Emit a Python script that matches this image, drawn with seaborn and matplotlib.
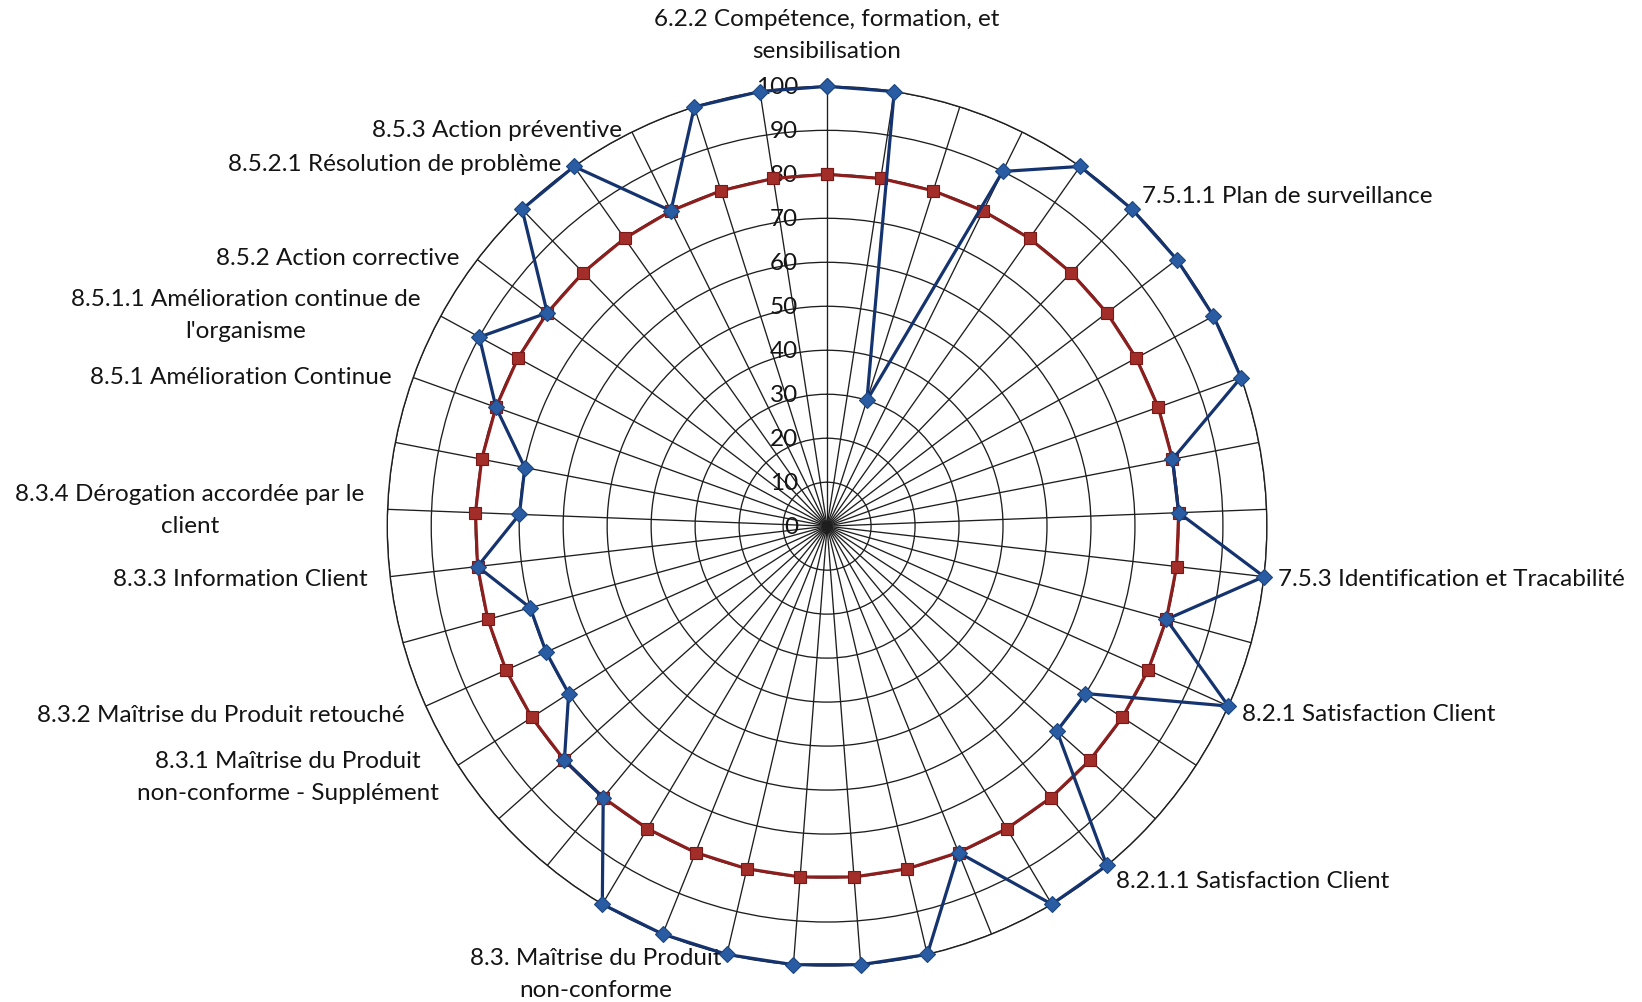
import numpy as np
import pandas as pd
import matplotlib
matplotlib.use("Agg")
import matplotlib.pyplot as plt
import seaborn as sns

# =============================
# DATA
# =============================
categories = [
    "6.2.2 Compétence, formation, et\nsensibilisation", "", "", "", "",
    "7.5.1.1 Plan de surveillance", "", "", "", "", "",
    "7.5.3 Identification et Tracabilité", "",
    "8.2.1 Satisfaction Client", "", "",
    "8.2.1.1 Satisfaction Client", "", "", "", "", "",
    "8.3. Maîtrise du Produit\nnon-conforme", "", "", "", "",
    "8.3.1 Maîtrise du Produit\nnon-conforme - Supplément",
    "8.3.2 Maîtrise du Produit retouché", "",
    "8.3.3 Information Client",
    "8.3.4 Dérogation accordée par le\nclient", "",
    "8.5.1 Amélioration Continue",
    "8.5.1.1 Amélioration continue de\nl'organisme",
    "8.5.2 Action corrective", "",
    "8.5.2.1 Résolution de problème",
    "8.5.3 Action préventive", "", "",
]

resultat = [100, 100, 30, 90, 100, 100, 100, 100, 100, 80, 80,
            100, 80, 100, 70, 70, 100, 100, 80, 100, 100, 100,
            100, 100, 100, 80, 80, 70, 70, 70, 80, 70, 70,
            80, 90, 80, 100, 100, 80, 100, 100]

objectif = [80] * 41

r_ticks = list(range(0, 101, 10))

# =============================
# STYLE
# =============================
sns.set_style("white")
plt.rcParams['font.family'] = ['Lato', 'DejaVu Sans']
FS = 17.5
TXT = "#141414"
GRID = "#1e1e1e"

n = len(categories)
theta = np.arange(n) * 2 * np.pi / n
theta_c = np.append(theta, 2 * np.pi)

df = pd.DataFrame({
    "theta": theta_c,
    "resultat": resultat + resultat[:1],
    "objectif": objectif + objectif[:1],
})

fig = plt.figure(figsize=(16.42, 10.03), dpi=100)
ax = fig.add_axes([0.2357, 0.0359, 0.536, 0.877], projection="polar")
ax.set_theta_zero_location("N")
ax.set_theta_direction(-1)

# red target series (below)
sns.lineplot(data=df, x="theta", y="objectif", ax=ax, sort=False, estimator=None,
             color="#8c1e1e", lw=2.3, marker="s", markersize=8.5,
             markerfacecolor="#a32e29", markeredgecolor="#7a1818",
             markeredgewidth=0.8, zorder=3, clip_on=False)

# blue result series (on top)
sns.lineplot(data=df, x="theta", y="resultat", ax=ax, sort=False, estimator=None,
             color="#14336f", lw=2.3, marker="D", markersize=8.5,
             markerfacecolor="#2a5ca3", markeredgecolor="#1d467f",
             markeredgewidth=0.8, zorder=4, clip_on=False)

ax.set_ylim(0, 100)
ax.set_yticks(r_ticks)
ax.set_yticklabels([])
ax.set_xticks(theta)
ax.set_xticklabels([])
ax.set_xlabel("")
ax.set_ylabel("")
ax.grid(True, color=GRID, lw=0.95)
ax.spines["polar"].set_color(GRID)
ax.spines["polar"].set_linewidth(1.0)

# value axis labels along the top spoke
for v in r_ticks:
    ax.annotate(str(v), xy=(0, v), xytext=(-29, 0), textcoords="offset pixels",
                ha="right", va="center", fontsize=FS, color=TXT,
                annotation_clip=False, zorder=2)

# category labels around the chart
for k, lab in enumerate(categories):
    if not lab:
        continue
    s, c = np.sin(theta[k]), np.cos(theta[k])
    nl = lab.count("\n") + 1
    if abs(s) < 0.1:
        ha, dx, dy = "center", 0, c * (18 + nl * 17)
    elif s > 0:
        ha, dx, dy = "left", 14.5 * s, 19 * c
    else:
        ha, dx, dy = "right", 23 * s, (20 * c if c < 0 else 3 * c)
    ax.annotate(lab, xy=(theta[k], 100), xytext=(dx, dy), textcoords="offset pixels",
                ha=ha, va="center", multialignment="center", linespacing=1.65,
                fontsize=FS, color=TXT, annotation_clip=False)

fig.savefig("out.png", dpi=100, facecolor="white")
